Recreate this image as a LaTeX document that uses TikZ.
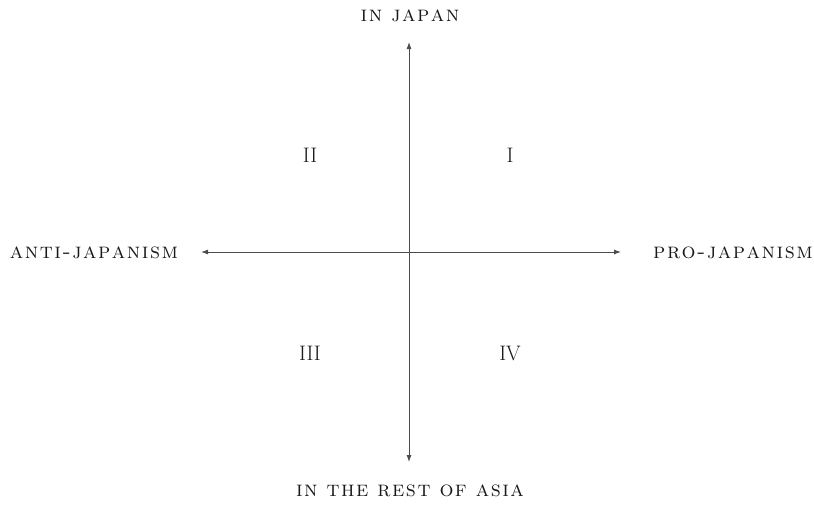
\documentclass[tikz,border=0pt]{standalone}
\usepackage{fontspec}
\usetikzlibrary{arrows.meta}
\makeatletter
\newcommand\lspc[1]{\@tfor\lsx:=#1\do{\lsx\kern1.5pt}\unkern}
\makeatother
\newcommand\wsp{\hspace{9pt}}
\begin{document}
\begin{tikzpicture}[x=1pt,y=-1pt,
  axislabel/.style={font=\fontsize{22}{26}\selectfont\scshape, inner sep=0pt, text=black!90},
  quad/.style={font=\fontsize{21}{24}\selectfont, inner sep=0pt, text=black!90},
  axis/.style={draw=black!70, line width=0.9pt, {Latex[length=7pt,width=5pt]}-{Latex[length=7pt,width=5pt]}}]
\useasboundingbox (0,0) rectangle (814,504);
\coordinate (top) at (409,42);
\coordinate (bot) at (409,462);
\coordinate (lft) at (201,252);
\coordinate (rgt) at (621,252);
\draw[axis] (top) -- (bot);
\draw[axis] (lft) -- (rgt);
\node[axislabel] (njapan) at (410,16) {\lspc{in}\wsp\lspc{japan}};
\node[axislabel] (nasia) at (410,491) {\lspc{in}\wsp\lspc{the}\wsp\lspc{rest}\wsp\lspc{of}\wsp\lspc{asia}};
\node[axislabel] (nanti) at (94,253) {\lspc{anti-japanism}};
\node[axislabel] (npro) at (733,253) {\lspc{pro-japanism}};
\node[quad] (q2) at (310,155) {II};
\node[quad] (q1) at (510,155) {I};
\node[quad] (q3) at (310,353) {III};
\node[quad] (q4) at (510,353) {IV};
\end{tikzpicture}
\end{document}
